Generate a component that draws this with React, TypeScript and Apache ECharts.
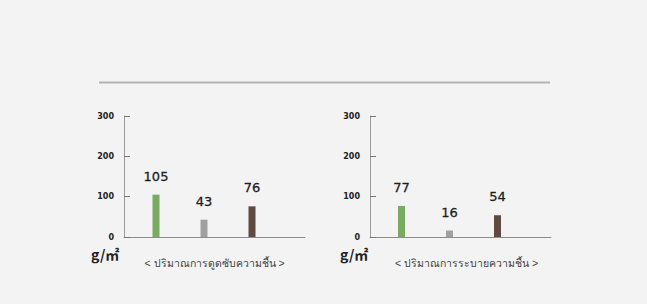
import React, { useEffect, useRef } from "react";
import * as echarts from "echarts";

const categories = ["A", "B", "C"];
const absorbValues = [105, 43, 76];
const releaseValues = [77, 16, 54];
const barColors = ["#78aa62", "#a0a0a0", "#5e4a3e"];
const yTicks = [0, 100, 200, 300];
const unitLabel = "g/㎡";
const absorbTitle = "< ปริมาณการดูดซับความชื้น >";
const releaseTitle = "< ปริมาณการระบายความชื้น >";

export default function App() {
  const ref = useRef<HTMLDivElement>(null);
  useEffect(() => {
    document.body.style.margin = "0";
    document.body.style.background = "#f3f3f3";
    const chart = echarts.init(ref.current!, null, { renderer: "svg" });
    const yMax = yTicks[yTicks.length - 1];
    const axisGrid = (left: number) => ({ left, top: 116, width: 181, height: 121 });
    const barGrid = (left: number) => ({ left, top: 116, width: 144, height: 121 });
    const frameX = (gridIndex: number, name: string, padLeft: number) => ({
      type: "category",
      gridIndex,
      data: [""],
      axisLine: { lineStyle: { color: "#8c8c8c", width: 1 } },
      axisTick: { show: false },
      axisLabel: { show: false },
      name,
      nameLocation: "middle",
      nameGap: 20,
      nameTextStyle: { color: "#444", fontSize: 10.5, fontFamily: "sans-serif", padding: [0, 0, 0, padLeft] },
    });
    const frameY = (gridIndex: number) => ({
      type: "value",
      gridIndex,
      min: 0,
      max: yMax,
      interval: 100,
      axisLine: { show: true, lineStyle: { color: "#9a9a9a", width: 1 } },
      axisTick: { show: true, inside: true, length: 6, lineStyle: { color: "#777" } },
      axisLabel: { fontSize: 8, fontWeight: "bold", color: "#222", margin: 10, fontFamily: "DejaVu Sans" },
      splitLine: { show: false },
    });
    const hiddenX = (gridIndex: number) => ({ type: "category", gridIndex, data: categories, show: false });
    const hiddenY = (gridIndex: number) => ({ type: "value", gridIndex, min: 0, max: yMax, show: false });
    const barSeries = (idx: number, values: number[]) => ({
      type: "bar",
      xAxisIndex: idx,
      yAxisIndex: idx,
      barWidth: 7,
      data: values.map((v, i) => ({ value: v, itemStyle: { color: barColors[i] } })),
      label: {
        show: true,
        position: "top",
        distance: 12,
        fontSize: 13,
        fontWeight: "normal",
        color: "#1e1e1e",
        textBorderColor: "#1e1e1e",
        textBorderWidth: 0.3,
        fontFamily: "DejaVu Sans",
      },
    });
    chart.setOption({
      animation: false,
      backgroundColor: "#f3f3f3",
      grid: [axisGrid(124), axisGrid(370), barGrid(132), barGrid(377.5)],
      xAxis: [frameX(0, absorbTitle, 0), frameX(1, releaseTitle, 12), hiddenX(2), hiddenX(3)],
      yAxis: [frameY(0), frameY(1), hiddenY(2), hiddenY(3)],
      series: [barSeries(2, absorbValues), barSeries(3, releaseValues)],
      graphic: [
        { type: "line", shape: { x1: 99, y1: 82.5, x2: 550, y2: 82.5 }, style: { stroke: "#b3b3b3", lineWidth: 2 } },
        { type: "text", x: 91, y: 247, style: { text: unitLabel, fontSize: 14, fontWeight: "bold", fill: "#222", fontFamily: "Noto Sans CJK SC" } },
        { type: "text", x: 340, y: 247, style: { text: unitLabel, fontSize: 14, fontWeight: "bold", fill: "#222", fontFamily: "Noto Sans CJK SC" } },
      ],
    });
    return () => chart.dispose();
  }, []);
  return <div ref={ref} style={{ width: 647, height: 304 }} />;
}
